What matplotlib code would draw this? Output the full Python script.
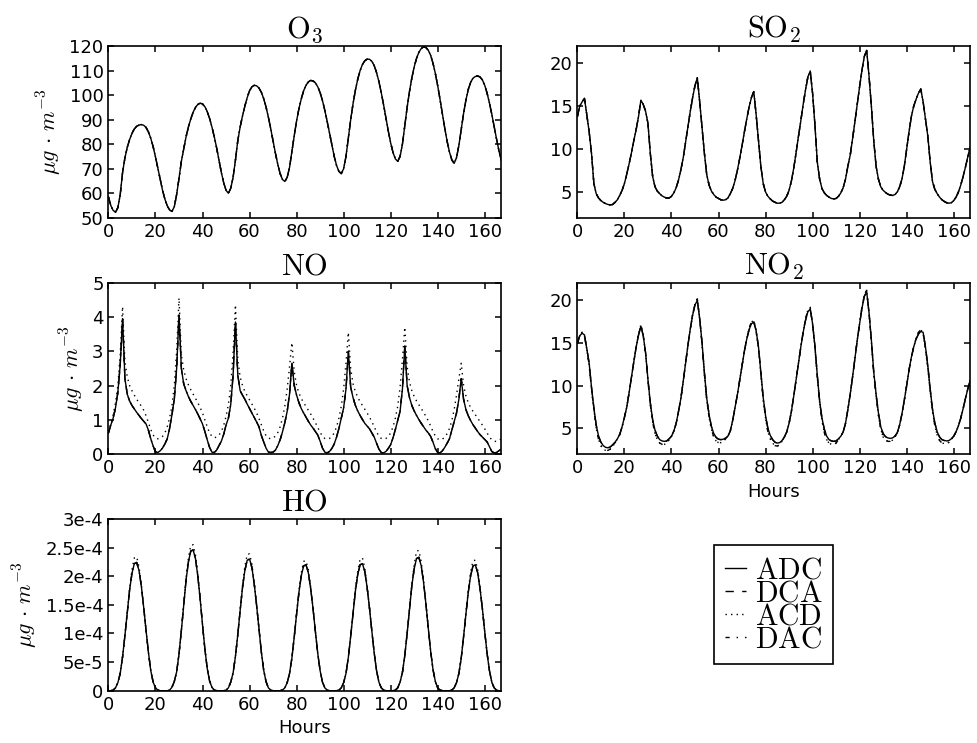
import numpy as np
import matplotlib
matplotlib.use('Agg')
import matplotlib.pyplot as plt

# hourly values (one week)
hours = np.arange(168)

o3 = [58.5, 55.0, 53.0, 52.3, 54.1, 59.4, 68.4, 74.4, 78.7, 81.9, 84.4, 86.2, 87.3, 87.8, 88.0,
      87.7, 86.8, 85.0, 82.4, 79.0, 74.8, 70.2, 65.5, 61.2, 57.6, 54.9, 53.2, 52.6,
      54.5, 59.5, 66.0, 73.0, 78.0, 83.0, 87.0, 90.3, 93.0, 95.0, 96.2, 96.7,
      96.4, 95.3, 93.3, 90.5, 87.0, 83.0, 78.5, 73.5, 68.5, 64.3, 61.2, 60.0,
      62.0, 66.5, 73.5, 81.5, 87.0, 91.5, 95.5, 99.0, 101.8, 103.4, 104.0,
      103.8, 102.9, 101.2, 98.6, 95.2, 91.0, 86.3, 81.3, 76.3, 71.8, 68.0, 65.6, 64.8,
      66.5, 70.5, 77.0, 83.5, 89.5, 94.5, 98.5, 101.8, 104.0, 105.4, 106.0,
      105.8, 105.0, 103.4, 101.0, 97.8, 93.8, 89.3, 84.5, 79.6, 75.0, 71.3, 68.9, 68.0,
      70.0, 75.0, 82.5, 90.0, 96.5, 102.0, 106.5, 110.0, 112.5, 114.0, 114.7,
      114.6, 113.8, 112.0, 109.2, 105.5, 101.0, 96.0, 90.6, 85.3, 80.5, 76.6, 74.0, 73.0,
      75.0, 80.0, 87.5, 95.0, 101.5, 107.0, 111.5, 115.0, 117.5, 119.0, 119.7,
      119.4, 118.3, 116.2, 113.0, 108.8, 103.8, 98.2, 92.3, 86.5, 81.2, 76.8, 73.6, 72.2,
      74.5, 79.5, 86.0, 92.5, 98.0, 102.3, 105.2, 106.9, 107.6, 107.8,
      107.4, 106.2, 104.0, 100.8, 96.8, 92.2, 87.2, 82.2, 77.5, 73.5]

so2 = [13.8, 15.0, 15.5, 15.9, 14.0, 12.0, 9.5, 6.0, 4.8, 4.3, 4.0, 3.8, 3.65, 3.55, 3.5,
       3.55, 3.8, 4.1, 4.6, 5.2, 6.0, 7.1, 8.3, 9.6, 11.0, 12.3, 13.8, 15.7,
       15.2, 14.4, 13.0, 9.5, 6.8, 5.6, 5.1, 4.8, 4.55, 4.4, 4.3, 4.3,
       4.5, 4.9, 5.5, 6.4, 7.6, 9.0, 10.8, 12.6, 14.4, 16.0, 17.4, 18.3,
       15.5, 12.5, 9.5, 7.0, 5.8, 5.1, 4.7, 4.4, 4.25, 4.1, 4.05,
       4.1, 4.3, 4.8, 5.4, 6.3, 7.5, 8.9, 10.4, 12.0, 13.5, 14.9, 16.0, 16.7,
       14.0, 11.0, 8.0, 6.0, 5.0, 4.5, 4.2, 3.95, 3.8, 3.7, 3.7,
       3.8, 4.1, 4.5, 5.2, 6.3, 7.8, 9.6, 11.5, 13.3, 15.2, 16.9, 18.4, 19.1,
       16.5, 12.8, 8.5, 6.5, 5.4, 4.9, 4.6, 4.4, 4.25, 4.2,
       4.25, 4.5, 4.9, 5.5, 6.5, 8.0, 9.3, 11.2, 13.2, 15.3, 17.3, 19.2, 20.8, 21.5,
       18.5, 15.0, 11.0, 8.0, 6.5, 5.6, 5.2, 4.95, 4.75, 4.65, 4.6,
       4.7, 5.0, 5.6, 6.5, 8.0, 10.0, 12.0, 13.8, 15.0, 15.8, 16.5, 17.0,
       15.5, 13.5, 11.5, 8.5, 6.2, 5.3, 4.8, 4.4, 4.1, 3.9, 3.75, 3.7,
       3.75, 4.0, 4.4, 5.0, 5.8, 6.8, 7.9, 9.1, 10.2]

no_adc = [0.62, 0.85, 1.05, 1.35, 1.8, 2.6, 3.95, 2.2, 1.75, 1.55, 1.42, 1.32, 1.22, 1.13, 1.04,
          0.96, 0.88, 0.7, 0.45, 0.24, 0.07, 0.05, 0.1, 0.18, 0.3, 0.45, 0.75, 1.15, 1.6, 2.5,
          4.05, 2.5, 2.05, 1.85, 1.68, 1.54, 1.42, 1.3, 1.17, 1.03, 0.88, 0.66, 0.42, 0.2, 0.06,
          0.05, 0.12, 0.25, 0.38, 0.58, 0.85, 1.05, 1.45, 2.3,
          3.85, 2.3, 1.85, 1.72, 1.6, 1.46, 1.33, 1.2, 1.07, 0.94, 0.8, 0.55, 0.36, 0.18, 0.06,
          0.05, 0.06, 0.12, 0.25, 0.42, 0.65, 0.92, 1.25, 1.75,
          2.65, 2.0, 1.72, 1.5, 1.33, 1.2, 1.08, 0.96, 0.85, 0.76, 0.66, 0.56, 0.38, 0.18, 0.06,
          0.04, 0.08, 0.17, 0.3, 0.5, 0.75, 1.05, 1.35, 1.9,
          3.0, 1.95, 1.65, 1.42, 1.26, 1.13, 1.01, 0.9, 0.82, 0.74, 0.62, 0.5, 0.32, 0.15, 0.05,
          0.04, 0.08, 0.17, 0.28, 0.48, 0.72, 0.98, 1.25, 1.9,
          3.15, 2.0, 1.65, 1.42, 1.26, 1.13, 1.01, 0.9, 0.8, 0.7, 0.62, 0.52, 0.35, 0.16, 0.05,
          0.04, 0.1, 0.2, 0.32, 0.45, 0.7, 0.95, 1.2, 1.6,
          2.2, 1.6, 1.3, 1.12, 0.98, 0.86, 0.76, 0.66, 0.57, 0.5, 0.43, 0.36, 0.22, 0.08,
          0.04, 0.05, 0.1, 0.15]

no_acd = [0.65, 0.9, 1.15, 1.5, 2.0, 2.9, 4.3, 2.7, 2.25, 2.0, 1.85, 1.72, 1.6, 1.5, 1.4,
          1.28, 1.12, 0.92, 0.72, 0.56, 0.47, 0.45, 0.47, 0.52, 0.62, 0.8, 1.05, 1.4, 2.0, 3.0,
          4.55, 2.9, 2.45, 2.2, 2.02, 1.88, 1.75, 1.63, 1.5, 1.36, 1.2, 1.0, 0.8, 0.62, 0.52,
          0.48, 0.5, 0.56, 0.66, 0.84, 1.1, 1.45, 2.0, 2.95,
          4.35, 2.75, 2.25, 2.0, 1.83, 1.7, 1.58, 1.46, 1.34, 1.2, 1.04, 0.86, 0.68, 0.54, 0.47,
          0.45, 0.47, 0.53, 0.63, 0.8, 1.05, 1.4, 1.9, 2.55,
          3.25, 2.4, 2.0, 1.78, 1.62, 1.5, 1.39, 1.28, 1.17, 1.05, 0.92, 0.78, 0.64, 0.52, 0.46,
          0.44, 0.46, 0.52, 0.62, 0.8, 1.05, 1.4, 1.9, 2.65,
          3.55, 2.5, 2.05, 1.82, 1.66, 1.53, 1.42, 1.31, 1.2, 1.08, 0.95, 0.8, 0.65, 0.53, 0.46,
          0.44, 0.46, 0.52, 0.62, 0.8, 1.05, 1.4, 1.95, 2.75,
          3.7, 2.55, 2.1, 1.85, 1.68, 1.55, 1.44, 1.33, 1.22, 1.1, 0.97, 0.82, 0.66, 0.53, 0.45,
          0.42, 0.44, 0.5, 0.6, 0.75, 0.98, 1.3, 1.72, 2.2,
          2.65, 2.0, 1.7, 1.5, 1.36, 1.25, 1.15, 1.05, 0.95, 0.85, 0.74, 0.62, 0.5, 0.42,
          0.38, 0.37, 0.4, 0.45]

no2_adc = [14.9, 15.8, 16.1, 15.9, 14.3, 12.6, 9.8, 7.4, 5.4, 4.1, 3.4, 3.0, 2.8, 2.75, 2.85,
           3.1, 3.4, 3.8, 4.3, 5.2, 6.3, 7.5, 9.2, 11.0, 12.8, 14.5, 15.9, 16.9,
           15.8, 13.8, 10.7, 8.0, 6.0, 4.8, 4.1, 3.7, 3.55, 3.5,
           3.55, 3.8, 4.1, 4.7, 5.6, 7.0, 8.5, 10.5, 12.6, 14.7, 16.6, 18.2, 19.4, 19.9,
           17.8, 15.0, 11.5, 8.5, 6.6, 5.2, 4.4, 3.95, 3.75, 3.7,
           3.75, 3.9, 4.1, 4.7, 5.9, 7.4, 8.9, 10.6, 12.3, 14.0, 15.4, 16.5, 17.2, 17.4,
           16.4, 14.5, 11.6, 8.6, 6.5, 5.0, 4.2, 3.7, 3.4, 3.3,
           3.35, 3.6, 4.0, 4.6, 5.6, 7.0, 8.8, 10.7, 12.6, 14.5, 16.2, 17.6, 18.6, 18.9,
           17.2, 14.6, 11.2, 8.2, 6.2, 4.9, 4.1, 3.7, 3.55, 3.5,
           3.55, 3.8, 4.1, 4.6, 5.6, 7.2, 9.0, 11.0, 13.2, 15.3, 17.2, 19.0, 20.4, 20.9,
           18.5, 15.3, 11.6, 9.0, 6.8, 5.2, 4.4, 4.05, 3.9, 3.85,
           3.9, 4.1, 4.5, 5.4, 6.7, 8.3, 10.0, 11.8, 13.3, 14.5, 15.4, 16.0, 16.3, 16.2,
           14.5, 12.3, 9.6, 7.2, 5.6, 4.6, 4.0, 3.7, 3.6, 3.55,
           3.6, 3.8, 4.1, 4.6, 5.3, 6.2, 7.3, 8.5, 9.6, 10.6]

no2_acd = [14.9, 15.8, 16.2, 15.8, 14.2, 12.4, 9.6, 7.2, 5.1, 3.7, 3.0, 2.6, 2.45, 2.45, 2.6,
           2.9, 3.3, 3.8, 4.3, 5.2, 6.3, 7.5, 9.2, 11.0, 12.8, 14.5, 16.0, 17.1,
           15.8, 13.7, 10.5, 7.8, 5.7, 4.4, 3.7, 3.3, 3.15, 3.15,
           3.3, 3.7, 4.1, 4.7, 5.6, 7.0, 8.5, 10.5, 12.6, 14.7, 16.6, 18.3, 19.6, 20.1,
           17.7, 14.8, 11.3, 8.3, 6.3, 4.9, 4.0, 3.55, 3.35, 3.35,
           3.5, 3.8, 4.1, 4.7, 5.9, 7.4, 8.9, 10.6, 12.3, 14.0, 15.5, 16.7, 17.4, 17.6,
           16.3, 14.3, 11.4, 8.4, 6.2, 4.6, 3.8, 3.3, 3.0, 2.95,
           3.1, 3.5, 4.0, 4.6, 5.6, 7.0, 8.8, 10.7, 12.6, 14.5, 16.3, 17.8, 18.8, 19.1,
           17.1, 14.4, 11.0, 8.0, 5.9, 4.5, 3.7, 3.3, 3.15, 3.15,
           3.3, 3.7, 4.1, 4.6, 5.6, 7.2, 9.0, 11.0, 13.2, 15.3, 17.3, 19.2, 20.6, 21.1,
           18.4, 15.1, 11.4, 8.8, 6.5, 4.9, 4.0, 3.65, 3.5, 3.5,
           3.65, 4.0, 4.5, 5.4, 6.7, 8.3, 10.0, 11.8, 13.3, 14.5, 15.5, 16.2, 16.5, 16.1,
           14.3, 12.1, 9.4, 7.0, 5.3, 4.2, 3.6, 3.3, 3.25, 3.25,
           3.4, 3.7, 4.1, 4.6, 5.3, 6.2, 7.3, 8.5, 9.6, 10.6]

ho_adc = np.array([
    0, 0, 0.01, 0.05, 0.14, 0.3, 0.59, 0.96, 1.36, 1.76, 2.05, 2.22, 2.24, 2.1, 1.82, 1.45, 1.05, 0.67, 0.35, 0.15, 0.05, 0.01, 0, 0,
    0, 0, 0.01, 0.06, 0.16, 0.33, 0.64, 1.05, 1.5, 1.93, 2.25, 2.44, 2.46, 2.31, 2.0, 1.6, 1.15, 0.73, 0.39, 0.17, 0.06, 0.01, 0, 0,
    0, 0, 0.01, 0.05, 0.15, 0.31, 0.6, 0.98, 1.4, 1.8, 2.1, 2.28, 2.3, 2.15, 1.86, 1.49, 1.08, 0.68, 0.36, 0.16, 0.05, 0.01, 0, 0,
    0, 0, 0.01, 0.05, 0.14, 0.3, 0.57, 0.94, 1.34, 1.72, 2.01, 2.18, 2.2, 2.06, 1.78, 1.43, 1.03, 0.65, 0.35, 0.15, 0.05, 0.01, 0, 0,
    0, 0, 0.01, 0.05, 0.14, 0.3, 0.58, 0.95, 1.35, 1.74, 2.03, 2.2, 2.22, 2.08, 1.8, 1.44, 1.04, 0.66, 0.35, 0.15, 0.05, 0.01, 0, 0,
    0, 0, 0.01, 0.05, 0.15, 0.32, 0.61, 1.0, 1.42, 1.83, 2.13, 2.31, 2.33, 2.18, 1.89, 1.51, 1.09, 0.69, 0.37, 0.16, 0.05, 0.01, 0, 0,
    0, 0, 0.01, 0.05, 0.14, 0.3, 0.57, 0.94, 1.34, 1.72, 2.01, 2.18, 2.2, 2.06, 1.78, 1.43, 1.03, 0.65, 0.35, 0.15, 0.05, 0.01, 0, 0]) * 1e-4

ho_acd = np.array([
    0, 0, 0.01, 0.05, 0.14, 0.3, 0.59, 0.97, 1.38, 1.79, 2.11, 2.32, 2.34, 2.16, 1.85, 1.46, 1.05, 0.67, 0.35, 0.15, 0.05, 0.01, 0, 0,
    0, 0, 0.01, 0.06, 0.16, 0.33, 0.64, 1.06, 1.52, 1.97, 2.32, 2.54, 2.55, 2.37, 2.03, 1.61, 1.15, 0.73, 0.39, 0.17, 0.06, 0.01, 0, 0,
    0, 0, 0.01, 0.05, 0.15, 0.31, 0.6, 0.99, 1.42, 1.84, 2.17, 2.38, 2.39, 2.21, 1.89, 1.5, 1.08, 0.68, 0.36, 0.16, 0.05, 0.01, 0, 0,
    0, 0, 0.01, 0.05, 0.14, 0.3, 0.57, 0.95, 1.36, 1.75, 2.06, 2.26, 2.27, 2.11, 1.81, 1.44, 1.03, 0.65, 0.35, 0.15, 0.05, 0.01, 0, 0,
    0, 0, 0.01, 0.05, 0.14, 0.3, 0.58, 0.96, 1.37, 1.78, 2.09, 2.3, 2.32, 2.14, 1.83, 1.45, 1.04, 0.66, 0.35, 0.15, 0.05, 0.01, 0, 0,
    0, 0, 0.01, 0.05, 0.15, 0.32, 0.61, 1.01, 1.44, 1.87, 2.2, 2.44, 2.45, 2.25, 1.92, 1.52, 1.09, 0.69, 0.37, 0.16, 0.05, 0.01, 0, 0,
    0, 0, 0.01, 0.05, 0.14, 0.3, 0.57, 0.95, 1.36, 1.75, 2.07, 2.27, 2.28, 2.11, 1.81, 1.44, 1.03, 0.65, 0.35, 0.15, 0.05, 0.01, 0, 0]) * 1e-4

methods = ['ADC', 'DCA', 'ACD', 'DAC']
styles = ['-', '--', ':', '-.']

# series per panel, in the order of methods
panels = [
    (r'$\mathrm{O_3}$', [o3, o3, o3, o3]),
    (r'$\mathrm{SO_2}$', [so2, so2, so2, so2]),
    (r'$\mathrm{NO}$', [no_adc, no_adc, no_acd, no_adc]),
    (r'$\mathrm{NO_2}$', [no2_adc, no2_adc, no2_acd, no2_acd]),
    (r'$\mathrm{HO}$', [ho_adc, ho_adc, ho_acd, ho_adc]),
]
ylims = [(50, 120), (2, 22), (0, 5), (2, 22), (0, 3e-4)]
yticks = [range(50, 121, 10), [5, 10, 15, 20], range(0, 6), [5, 10, 15, 20],
          [0, 5e-5, 1e-4, 1.5e-4, 2e-4, 2.5e-4, 3e-4]]

plt.rcParams['font.family'] = 'DejaVu Sans'
plt.rcParams['font.size'] = 13
plt.rcParams['mathtext.fontset'] = 'cm'
plt.rcParams['xtick.direction'] = 'in'
plt.rcParams['ytick.direction'] = 'in'
plt.rcParams['xtick.top'] = True
plt.rcParams['ytick.right'] = True
plt.rcParams['xtick.major.size'] = 4.5
plt.rcParams['ytick.major.size'] = 4.5
plt.rcParams['xtick.major.width'] = 1.1
plt.rcParams['ytick.major.width'] = 1.1
plt.rcParams['axes.linewidth'] = 1.2
plt.rcParams['lines.scale_dashes'] = False
plt.rcParams['lines.dashed_pattern'] = [6, 6]
plt.rcParams['lines.dashdot_pattern'] = [3, 5, 1, 5]
plt.rcParams['lines.dotted_pattern'] = [1, 3]

fig, axes = plt.subplots(3, 2, figsize=(9.77, 7.43), dpi=100)
fig.subplots_adjust(left=0.111, right=0.993, bottom=0.0704, top=0.938, wspace=0.194, hspace=0.377)
axs = axes.flatten()

for i, (title, series) in enumerate(panels):
    ax = axs[i]
    for vals, ls, name in zip(series, styles, methods):
        ax.plot(hours, vals, color='black', linestyle=ls, linewidth=1.0, label=name)
    ax.set_title(title, fontsize=22)
    ax.set_xlim(0, 167)
    ax.set_ylim(*ylims[i])
    ax.set_xticks(range(0, 161, 20))
    ax.set_yticks(list(yticks[i]))
    if i % 2 == 0:
        ax.set_ylabel(r'$\mu g\,\cdot\,m^{-3}$', fontsize=16)

axs[4].set_yticklabels(['0', '5e-5', '1e-4', '1.5e-4', '2e-4', '2.5e-4', '3e-4'])
axs[3].set_xlabel('Hours')
axs[4].set_xlabel('Hours')

axs[5].axis('off')
handles, _ = axs[4].get_legend_handles_labels()
leg = axs[5].legend(handles, [r'$\mathrm{%s}$' % m for m in methods], loc='center',
                    fontsize=21.5, handlelength=0.7, handletextpad=0.3, labelspacing=-0.2,
                    borderpad=0.35, fancybox=False, framealpha=1)
leg.get_frame().set_edgecolor('black')
leg.get_frame().set_linewidth(1.2)

fig.savefig('out.png', dpi=100, facecolor='white')
